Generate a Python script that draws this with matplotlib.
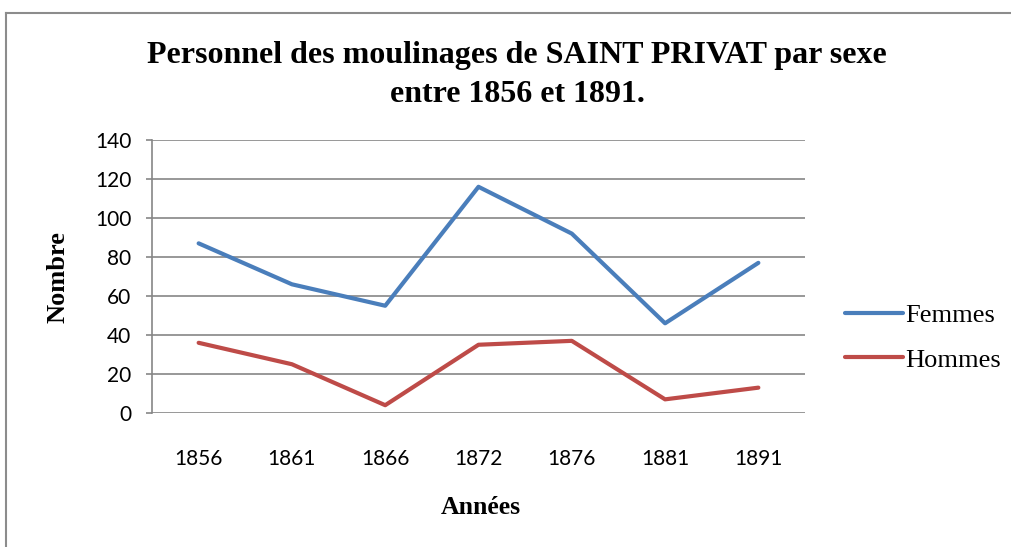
import matplotlib.pyplot as plt
from matplotlib.lines import Line2D

# Data
annees = ['1856', '1861', '1866', '1872', '1876', '1881', '1891']
femmes = [87, 66, 55, 116, 92, 46, 77]
hommes = [36, 25, 4, 35, 37, 7, 13]
yticks = [0, 20, 40, 60, 80, 100, 120, 140]

blue = '#4A7EBB'
red = '#BE4B48'
grid_col = '#868686'

fig = plt.figure(figsize=(10.12, 5.47), dpi=100)

# outer frame (left and top edges visible)
fig.add_artist(Line2D([6 / 1012, 6 / 1012], [0, 1 - 12.5 / 547],
                      transform=fig.transFigure, color='#8c8c8c', lw=1.5))
fig.add_artist(Line2D([6 / 1012, 1], [1 - 12.5 / 547, 1 - 12.5 / 547],
                      transform=fig.transFigure, color='#8c8c8c', lw=1.5))

ax = fig.add_axes([152 / 1012, 1 - 413 / 547, 653 / 1012, 273 / 547])

x = range(len(annees))
ax.plot(x, femmes, color=blue, lw=3, label='Femmes', solid_capstyle='round')
ax.plot(x, hommes, color=red, lw=3, label='Hommes', solid_capstyle='round')

ax.set_xlim(-0.5, len(annees) - 0.5)
ax.set_ylim(0, 140)
ax.set_yticks(yticks)
ax.set_xticks(list(x))
ax.set_xticklabels(annees)

for y in yticks:
    ax.axhline(y, color=grid_col, lw=1.2, zorder=0)

for s in ['top', 'right', 'bottom']:
    ax.spines[s].set_visible(False)
ax.spines['left'].set_color(grid_col)
ax.spines['left'].set_linewidth(1.2)

ax.tick_params(axis='y', length=4.5, color=grid_col, width=1.2, pad=10.5,
               labelsize=15, labelfontfamily='Lato')
ax.tick_params(axis='x', length=0, pad=26, labelsize=15, labelfontfamily='Lato')

fig.text(517 / 1012, 1 - 56 / 547, 'Personnel des moulinages de SAINT PRIVAT par sexe',
         ha='center', va='center', fontsize=23, fontweight='bold', family='Liberation Serif')
fig.text(517 / 1012, 1 - 94 / 547, 'entre 1856 et 1891.',
         ha='center', va='center', fontsize=23, fontweight='bold', family='Liberation Serif')

fig.text(58 / 1012, 1 - 277 / 547, 'Nombre', rotation=90, ha='center', va='center',
         fontsize=19, fontweight='bold', family='Liberation Serif')
fig.text(481 / 1012, 1 - 508 / 547, 'Années', ha='center', va='center',
         fontsize=18.5, fontweight='bold', family='Liberation Serif')

leg = ax.legend(loc='center left', bbox_to_anchor=(845 / 1012, 1 - 337.5 / 547),
                bbox_transform=fig.transFigure, frameon=False, borderpad=0,
                borderaxespad=0, prop={'family': 'Liberation Serif', 'size': 19},
                handlelength=2.2, handletextpad=0.08, labelspacing=0.8)

fig.savefig('out.png', dpi=100)
